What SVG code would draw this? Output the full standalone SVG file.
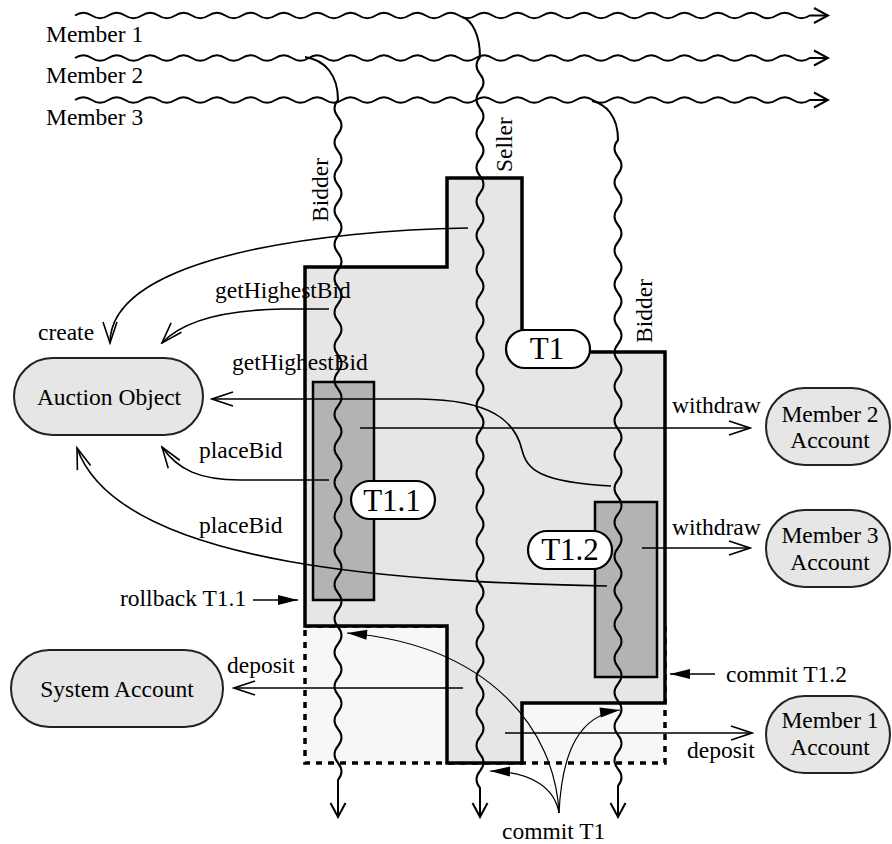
<svg xmlns="http://www.w3.org/2000/svg" width="892" height="844" viewBox="0 0 892 844">
<style>
text{font-family:"Liberation Serif","Times New Roman",serif;font-size:23.5px;fill:#000}
.big{font-size:31px}
.mid{text-anchor:middle}
.oval{fill:#e6e6e6;stroke:#222;stroke-width:2}
.pill{fill:#fff;stroke:#000;stroke-width:2.2}
.sub{fill:#b3b3b3;stroke:#000;stroke-width:2.5}
.wave{fill:none;stroke:#000;stroke-width:2}
.arr{fill:none;stroke:#000;stroke-width:1.6}
.thin{fill:none;stroke:#000;stroke-width:1.2}
</style>
<defs>
<marker id="openV" markerUnits="userSpaceOnUse" viewBox="-24 -10 26 20" markerWidth="26" markerHeight="20" refX="0" refY="0" orient="auto">
<path d="M-21 -7 L0 0 L-21 7" fill="none" stroke="#000" stroke-width="1.6"/>
</marker>
<marker id="lifeV" markerUnits="userSpaceOnUse" viewBox="-16 -10 18 20" markerWidth="18" markerHeight="20" refX="0" refY="0" orient="auto">
<path d="M-14 -7.5 L0 0 L-14 7.5" fill="none" stroke="#000" stroke-width="2"/>
</marker>
<marker id="fill" markerUnits="userSpaceOnUse" viewBox="-22 -8 24 16" markerWidth="24" markerHeight="16" refX="0" refY="0" orient="auto">
<path d="M-20 -5 L0 0 L-20 5 Z" fill="#000"/>
</marker>
</defs>

<g id="regions">
<rect id="committed-area" x="305" y="626" width="360" height="137" fill="#f7f7f7" stroke="#000" stroke-width="3.5" stroke-dasharray="6 6"/>
<polygon id="T1-region" points="447,178 522,178 522,352 665,352 665,703 522,703 522,763 447,763 447,626 305,626 305,267 447,267" fill="#e6e6e6" stroke="#000" stroke-width="3.5"/>
<rect id="T1.1-region" class="sub" x="313" y="382" width="61" height="218"/>
<rect id="T1.2-region" class="sub" x="595" y="502" width="62" height="175"/>
</g>

<g id="timelines">
<path class="wave" marker-end="url(#lifeV)" d="M75 15.5 q8.35 -5.5 16.7 0 t16.7 0 t16.7 0 t16.7 0 t16.7 0 t16.7 0 t16.7 0 t16.7 0 t16.7 0 t16.7 0 t16.7 0 t16.7 0 t16.7 0 t16.7 0 t16.7 0 t16.7 0 t16.7 0 t16.7 0 t16.7 0 t16.7 0 t16.7 0 t16.7 0 t16.7 0 t16.7 0 t16.7 0 t16.7 0 t16.7 0 t16.7 0 t16.7 0 t16.7 0 t16.7 0 t16.7 0 t16.7 0 t16.7 0 t16.7 0 t16.7 0 t16.7 0 t16.7 0 t16.7 0 t16.7 0 t16.7 0 t16.7 0 t16.7 0 t16.7 0 L828 15.5"/>
<path class="wave" marker-end="url(#lifeV)" d="M75 58 q8.35 -5.5 16.7 0 t16.7 0 t16.7 0 t16.7 0 t16.7 0 t16.7 0 t16.7 0 t16.7 0 t16.7 0 t16.7 0 t16.7 0 t16.7 0 t16.7 0 t16.7 0 t16.7 0 t16.7 0 t16.7 0 t16.7 0 t16.7 0 t16.7 0 t16.7 0 t16.7 0 t16.7 0 t16.7 0 t16.7 0 t16.7 0 t16.7 0 t16.7 0 t16.7 0 t16.7 0 t16.7 0 t16.7 0 t16.7 0 t16.7 0 t16.7 0 t16.7 0 t16.7 0 t16.7 0 t16.7 0 t16.7 0 t16.7 0 t16.7 0 t16.7 0 t16.7 0 L828 58"/>
<path class="wave" marker-end="url(#lifeV)" d="M75 100 q8.35 -5.5 16.7 0 t16.7 0 t16.7 0 t16.7 0 t16.7 0 t16.7 0 t16.7 0 t16.7 0 t16.7 0 t16.7 0 t16.7 0 t16.7 0 t16.7 0 t16.7 0 t16.7 0 t16.7 0 t16.7 0 t16.7 0 t16.7 0 t16.7 0 t16.7 0 t16.7 0 t16.7 0 t16.7 0 t16.7 0 t16.7 0 t16.7 0 t16.7 0 t16.7 0 t16.7 0 t16.7 0 t16.7 0 t16.7 0 t16.7 0 t16.7 0 t16.7 0 t16.7 0 t16.7 0 t16.7 0 t16.7 0 t16.7 0 t16.7 0 t16.7 0 t16.7 0 L828 100"/>
<path id="bidder1-line" class="wave" marker-end="url(#lifeV)" d="M305 57 C325 60 338 75 338 100 q-7 8.5 0 17 t0 17 t0 17 t0 17 t0 17 t0 17 t0 17 t0 17 t0 17 t0 17 t0 17 t0 17 t0 17 t0 17 t0 17 t0 17 t0 17 t0 17 t0 17 t0 17 t0 17 t0 17 t0 17 t0 17 t0 17 t0 17 t0 17 t0 17 t0 17 t0 17 t0 17 t0 17 t0 17 t0 17 t0 17 t0 17 t0 17 t0 17 t0 17 t0 17 L338 817"/>
<path id="seller-line" class="wave" marker-end="url(#lifeV)" d="M462 17 C472 20 480 35 480 57 q-7 8.5 0 17 t0 17 t0 17 t0 17 t0 17 t0 17 t0 17 t0 17 t0 17 t0 17 t0 17 t0 17 t0 17 t0 17 t0 17 t0 17 t0 17 t0 17 t0 17 t0 17 t0 17 t0 17 t0 17 t0 17 t0 17 t0 17 t0 17 t0 17 t0 17 t0 17 t0 17 t0 17 t0 17 t0 17 t0 17 t0 17 t0 17 t0 17 t0 17 t0 17 t0 17 t0 17 t0 17 L480 817"/>
<path id="bidder2-line" class="wave" marker-end="url(#lifeV)" d="M592 101 C605 104 618 115 618 140 q-7 8.5 0 17 t0 17 t0 17 t0 17 t0 17 t0 17 t0 17 t0 17 t0 17 t0 17 t0 17 t0 17 t0 17 t0 17 t0 17 t0 17 t0 17 t0 17 t0 17 t0 17 t0 17 t0 17 t0 17 t0 17 t0 17 t0 17 t0 17 t0 17 t0 17 t0 17 t0 17 t0 17 t0 17 t0 17 t0 17 t0 17 t0 17 t0 17 L618 817"/>
<text x="46" y="42">Member 1</text>
<text x="46" y="83">Member 2</text>
<text x="46" y="125">Member 3</text>
<text x="328" y="222" transform="rotate(-90 328 222)">Bidder</text>
<text x="512" y="172" transform="rotate(-90 512 172)">Seller</text>
<text x="652" y="343" transform="rotate(-90 652 343)">Bidder</text>
</g>

<g id="connectors">
<path class="arr" marker-end="url(#openV)" d="M468 228 C330 230 110 255 110 343"/>
<path class="arr" marker-end="url(#openV)" d="M329 309 L282 309 C230 310 185 318 162 343"/>
<path class="arr" marker-end="url(#openV)" d="M611 486 C540 482 527 470 522 450 C515 420 490 400 420 399 L212 399"/>
<path class="arr" marker-end="url(#openV)" d="M360 428 L750 428"/>
<path class="arr" marker-end="url(#openV)" d="M329 480 L240 480 C200 480 178 470 162 447"/>
<path class="arr" marker-end="url(#openV)" d="M607 586 C420 582 120 570 77 448"/>
<path class="arr" marker-end="url(#openV)" d="M642 548 L750 548"/>
<path class="arr" marker-end="url(#fill)" d="M253 600 L298 600"/>
<path class="arr" marker-end="url(#fill)" d="M715 674 L670 674"/>
<path class="arr" marker-end="url(#openV)" d="M463 688 L234 688"/>
<path class="arr" marker-end="url(#openV)" d="M505 733 L752 733"/>
<path class="thin" marker-end="url(#fill)" d="M559 813 C555 730 490 645 347 633"/>
<path class="thin" marker-end="url(#fill)" d="M559 813 C555 790 535 772 490 771"/>
<path class="thin" marker-end="url(#fill)" d="M559 813 C562 750 580 715 620 710"/>
<text x="38" y="340">create</text>
<text x="215" y="298">getHighestBid</text>
<text x="232" y="370">getHighestBid</text>
<text x="672" y="413">withdraw</text>
<text x="199" y="458">placeBid</text>
<text x="199" y="533">placeBid</text>
<text x="672" y="535">withdraw</text>
<text x="120" y="606">rollback T1.1</text>
<text x="726" y="682">commit T1.2</text>
<text x="227" y="673">deposit</text>
<text x="687" y="758">deposit</text>
<text x="502" y="839">commit T1</text>
</g>

<g id="T1">
<rect class="pill" x="506" y="330" width="84" height="38" rx="19"/>
<text class="big mid" x="547" y="359">T1</text>
</g>
<g id="T1.1">
<rect class="pill" x="351" y="481" width="84" height="38" rx="19"/>
<text class="big mid" x="392" y="511">T1.1</text>
</g>
<g id="T1.2">
<rect class="pill" x="528" y="531" width="84" height="38" rx="19"/>
<text class="big mid" x="570" y="560">T1.2</text>
</g>
<g id="auction-object">
<rect class="oval" x="14" y="358" width="189" height="77" rx="38.5"/>
<text class="mid" x="109" y="405">Auction Object</text>
</g>
<g id="system-account">
<rect class="oval" x="11" y="650" width="212" height="77" rx="38.5"/>
<text class="mid" x="117" y="697">System Account</text>
</g>
<g id="member2-account">
<rect class="oval" x="766" y="388" width="124" height="77" rx="38.5"/>
<text class="mid" x="830" y="422">Member 2</text>
<text class="mid" x="830" y="448">Account</text>
</g>
<g id="member3-account">
<rect class="oval" x="766" y="510" width="124" height="77" rx="38.5"/>
<text class="mid" x="830" y="543">Member 3</text>
<text class="mid" x="830" y="570">Account</text>
</g>
<g id="member1-account">
<rect class="oval" x="766" y="696" width="124" height="77" rx="38.5"/>
<text class="mid" x="830" y="728">Member 1</text>
<text class="mid" x="830" y="755">Account</text>
</g>
</svg>
